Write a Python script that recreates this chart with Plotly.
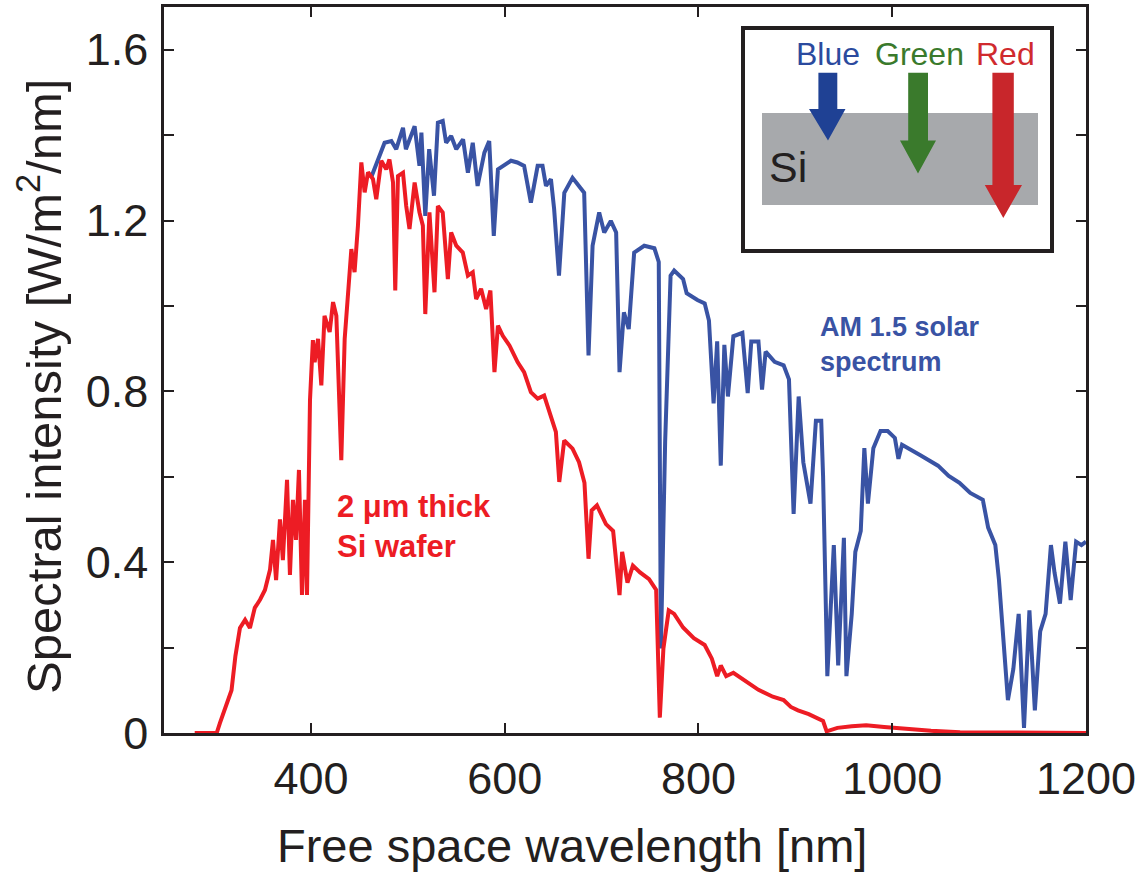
import plotly.graph_objects as go

# ---------------- data ----------------
am15_wavelength = [462, 471, 476, 483, 488, 495, 498, 507, 512, 514, 518, 522, 527, 531, 536, 539.5,
                   544.7, 550, 557, 562, 567, 572, 579, 584, 588.7, 593, 606.5, 613, 620, 627, 634, 639,
                   642.6, 647.7, 651, 656, 661.5, 670, 682, 686.5, 690.7, 697.5, 702.7, 709.5, 715, 718.5,
                   723, 728, 733.6, 744, 754.5, 759, 761.2, 765.6, 771.2, 774.9, 784.1, 787.8, 798.9,
                   806.4, 810.8, 815.6, 819.3, 823, 826.7, 830.4, 836, 845.3, 850.8, 854.5, 861.9, 865.6,
                   869.3, 878.6, 887.9, 893.4, 898.2, 903.4, 908.2, 915.6, 921.2, 926.7, 928.6, 933,
                   939.7, 944.2, 950.1, 952.7, 958.2, 961.9, 967.5, 971.2, 974.9, 980.5, 987.9, 995.3,
                   1002.7, 1006.4, 1010.1, 1028.6, 1047.2, 1058.3, 1069.4, 1080.5, 1093.5, 1099, 1106.4,
                   1110.1, 1115.7, 1119.4, 1125, 1130.5, 1136, 1141.6, 1147.2, 1152.7, 1158.3, 1163.8,
                   1167.5, 1173.1, 1178.7, 1184.2, 1189.8, 1195.3, 1200]
am15_intensity = [1.30, 1.355, 1.382, 1.386, 1.367, 1.417, 1.367, 1.421, 1.328, 1.406, 1.211, 1.367,
                  1.258, 1.429, 1.433, 1.382, 1.398, 1.367, 1.39, 1.312, 1.382, 1.281, 1.359, 1.386,
                  1.164, 1.32, 1.34, 1.336, 1.328, 1.242, 1.328, 1.328, 1.281, 1.297, 1.227, 1.071,
                  1.265, 1.30, 1.265, 0.884, 1.141, 1.219, 1.172, 1.199, 1.172, 0.845, 0.985, 0.946,
                  1.125, 1.141, 1.135, 1.103, 0.198, 0.683, 1.071, 1.083, 1.063, 1.03, 1.014, 1.006,
                  0.966, 0.772, 0.917, 0.626, 0.909, 0.788, 0.929, 0.937, 0.796, 0.917, 0.917, 0.804,
                  0.893, 0.869, 0.861, 0.828, 0.513, 0.788, 0.634, 0.537, 0.731, 0.731, 0.602, 0.133,
                  0.44, 0.158, 0.457, 0.133, 0.279, 0.424, 0.473, 0.667, 0.537, 0.667, 0.707, 0.707,
                  0.691, 0.642, 0.675, 0.651, 0.626, 0.602, 0.586, 0.562, 0.546, 0.481, 0.44, 0.36,
                  0.198, 0.077, 0.15, 0.279, 0.012, 0.287, 0.053, 0.238, 0.279, 0.44, 0.376, 0.303,
                  0.448, 0.311, 0.448, 0.44, 0.448]

si_wavelength = [280, 296, 302.7, 306, 313, 318, 322, 326.7, 332, 337, 342, 347.4, 352.5, 357.7, 360.8,
                 364, 368, 371, 375.3, 378.3, 381.4, 384.5, 387.6, 390.7, 393.8, 395.9, 399, 402, 403.8,
                 407.3, 410.7, 414, 419.3, 422.8, 426.2, 431.3, 434.8, 438.3, 441.7, 445, 448.5, 452,
                 455.4, 458.9, 464, 467.4, 472.6, 477.7, 481, 484.7, 487, 489.8, 495, 498.3, 501.7, 507,
                 512, 515.5, 518, 522.3, 527.5, 531, 536, 541.3, 544.7, 550, 556.7, 562, 567, 570.5,
                 575.6, 580.8, 585.2, 589.4, 593, 598, 605, 613.4, 620, 627, 634, 640.7, 647.7, 652.8,
                 656.3, 661.4, 670, 676.7, 682.3, 686.5, 689.7, 695.2, 704.5, 711.9, 718.5, 721.2, 726.7,
                 732.3, 739.7, 749, 756.3, 760.1, 763.8, 769.3, 774.9, 784.1, 795.2, 806.4, 813.8,
                 819.3, 823, 828.6, 836, 847.1, 861.9, 876.7, 887.9, 895.3, 902.7, 913.8, 928.6, 932.3,
                 943.4, 958.2, 973.1, 991.6, 1010, 1040, 1070, 1100, 1200]
si_intensity = [0.0, 0.0, 0.0, 0.023, 0.07, 0.10, 0.18, 0.246, 0.265, 0.246, 0.293, 0.312, 0.335, 0.382,
                0.452, 0.358, 0.5, 0.405, 0.593, 0.37, 0.546, 0.452, 0.616, 0.323, 0.546, 0.323, 0.78,
                0.92, 0.868, 0.923, 0.814, 0.977, 0.939, 1.009, 0.977, 0.639, 0.923, 1.047, 1.133,
                1.079, 1.188, 1.336, 1.266, 1.313, 1.297, 1.25, 1.34, 1.32, 1.343, 1.289, 1.036, 1.304,
                1.312, 1.234, 1.18, 1.289, 1.219, 1.188, 0.981, 1.219, 1.032, 1.234, 1.219, 1.063,
                1.172, 1.141, 1.125, 1.071, 1.079, 1.016, 1.04, 0.993, 1.036, 0.845, 0.954, 0.93, 0.907,
                0.868, 0.845, 0.798, 0.783, 0.79, 0.744, 0.705, 0.588, 0.685, 0.666, 0.634, 0.586,
                0.408, 0.521, 0.533, 0.489, 0.473, 0.323, 0.424, 0.352, 0.392, 0.376, 0.36, 0.335,
                0.036, 0.198, 0.287, 0.279, 0.247, 0.222, 0.206, 0.174, 0.133, 0.158, 0.133, 0.141,
                0.125, 0.101, 0.085, 0.077, 0.061, 0.053, 0.044, 0.028, 0.004, 0.012, 0.016, 0.018,
                0.014, 0.01, 0.005, 0.002, 0.001, 0.0]

x_tick_values = [400, 600, 800, 1000, 1200]
x_tick_labels = ["400", "600", "800", "1000", "1200"]
y_tick_values = [0, 0.4, 0.8, 1.2, 1.6]
y_tick_labels = ["0", "0.4", "0.8", "1.2", "1.6"]
y_minor_tick_values = [0.2, 0.6, 1.0, 1.4]

# ---------------- styling ----------------
W, H = 1142, 872
L, R, T, B = 164, 56, 7, 139
PW, PH = W - L - R, H - T - B
FONT = "Liberation Sans, Arial, Helvetica, sans-serif"
INK = "#231F20"
BLUE_LINE = "#3953A4"
RED_LINE = "#ED1C24"


def px(xp):
    return (xp - L) / PW


def py(yp):
    return (H - B - yp) / PH


def poly(points):
    pts = [f"{px(a):.5f},{py(b):.5f}" for a, b in points]
    return "M " + " L ".join(pts) + " Z"


fig = go.Figure()
fig.add_trace(go.Scatter(x=am15_wavelength, y=am15_intensity, mode="lines",
                         line=dict(color=BLUE_LINE, width=4), showlegend=False))
fig.add_trace(go.Scatter(x=si_wavelength, y=si_intensity, mode="lines",
                         line=dict(color=RED_LINE, width=4), showlegend=False))

axis_common = dict(showgrid=False, zeroline=False, showline=True, linecolor=INK, linewidth=2.5,
                   mirror="ticks", ticks="inside", tickcolor=INK, tickwidth=2, ticklen=10,
                   tickfont=dict(family=FONT, size=45, color=INK))

fig.update_xaxes(range=[248.3, 1200], tickvals=x_tick_values, ticktext=x_tick_labels,
                 ticklabelstandoff=4, **axis_common)
fig.update_yaxes(range=[0, 1.7], tickvals=y_tick_values, ticktext=y_tick_labels,
                 ticklabelstandoff=4,
                 minor=dict(tickmode="array", tickvals=y_minor_tick_values, ticks="inside",
                            ticklen=10, tickwidth=2, tickcolor=INK, showgrid=False),
                 **axis_common)

shapes = []
# inset frame
shapes.append(dict(type="rect", xref="paper", yref="paper", x0=px(743), x1=px(1052), y0=py(251), y1=py(28),
                   line=dict(color=INK, width=4), fillcolor="white", layer="above"))
# silicon slab
shapes.append(dict(type="rect", xref="paper", yref="paper", x0=px(762), x1=px(1038), y0=py(205), y1=py(113),
                   line=dict(width=0), fillcolor="#A7A9AC", layer="above"))
# arrows
shapes.append(dict(type="path", xref="paper", yref="paper", layer="above", line=dict(width=0),
                   fillcolor="#1F4194",
                   path=poly([(818.4, 72.8), (837.3, 72.8), (837.3, 109), (845.5, 109), (828, 140.5),
                              (809, 109), (818.4, 109)])))
shapes.append(dict(type="path", xref="paper", yref="paper", layer="above", line=dict(width=0),
                   fillcolor="#3A7A2C",
                   path=poly([(908.2, 72.8), (928, 72.8), (928, 140.5), (936, 140.5), (918, 173.5),
                              (900, 140.5), (908.2, 140.5)])))
shapes.append(dict(type="path", xref="paper", yref="paper", layer="above", line=dict(width=0),
                   fillcolor="#C8262B",
                   path=poly([(992.4, 72.8), (1013.8, 72.8), (1013.8, 185), (1022, 185), (1003.3, 218),
                              (984.8, 185), (992.4, 185)])))

annotations = [
    dict(text="Spectral intensity [W/m<sup>2</sup>/nm]", xref="paper", yref="paper", x=px(40), y=py(387),
         textangle=-90, showarrow=False, xanchor="center", yanchor="middle",
         font=dict(family=FONT, size=49, color=INK)),
    dict(text="Free space wavelength [nm]", xref="paper", yref="paper", x=px(572), y=py(845),
         showarrow=False, xanchor="center", yanchor="middle",
         font=dict(family=FONT, size=47, color=INK)),
    dict(text="<b>AM 1.5 solar<br>spectrum</b>", xref="paper", yref="paper", x=px(818), y=py(344),
         showarrow=False, xanchor="left", yanchor="middle", align="left",
         font=dict(family=FONT, size=27, color=BLUE_LINE)),
    dict(text="<b>2 \u03bcm thick<br>Si wafer</b>", xref="paper", yref="paper", x=px(335), y=py(526),
         showarrow=False, xanchor="left", yanchor="middle", align="left",
         font=dict(family=FONT, size=31, color=RED_LINE)),
    dict(text="Blue", xref="paper", yref="paper", x=px(827.5), y=py(54), showarrow=False,
         xanchor="center", yanchor="middle", font=dict(family=FONT, size=32, color="#2B4A9E")),
    dict(text="Green", xref="paper", yref="paper", x=px(919), y=py(54), showarrow=False,
         xanchor="center", yanchor="middle", font=dict(family=FONT, size=32, color="#3A7A2C")),
    dict(text="Red", xref="paper", yref="paper", x=px(1005), y=py(54), showarrow=False,
         xanchor="center", yanchor="middle", font=dict(family=FONT, size=32, color="#D02A2E")),
    dict(text="Si", xref="paper", yref="paper", x=px(767), y=py(167), showarrow=False,
         xanchor="left", yanchor="middle", font=dict(family=FONT, size=43, color=INK)),
]

fig.update_layout(width=W, height=H, margin=dict(l=L, r=R, t=T, b=B, autoexpand=False),
                  paper_bgcolor="white", plot_bgcolor="white", shapes=shapes, annotations=annotations,
                  showlegend=False)

fig.write_html("out.html")
